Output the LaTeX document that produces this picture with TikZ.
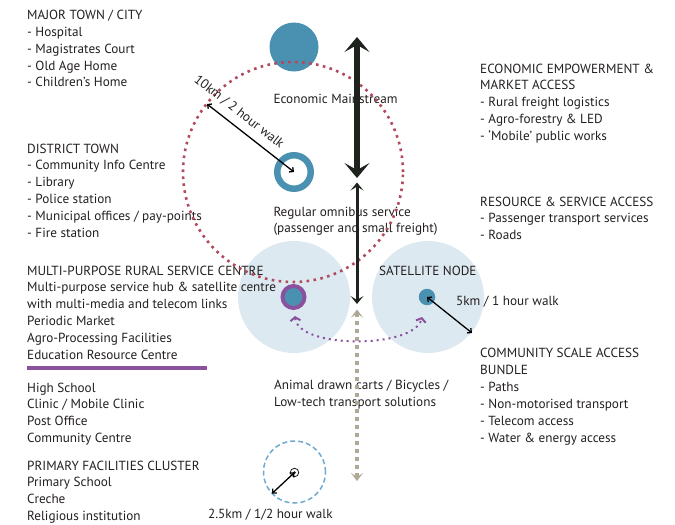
\documentclass[tikz,border=0pt]{standalone}
\usepackage{fontspec}
\setmainfont{PT Sans}
\usetikzlibrary{arrows.meta}
\definecolor{bluec}{HTML}{4A91B1}
\definecolor{redc}{HTML}{B04A5C}
\definecolor{lightc}{HTML}{DDE9F1}
\definecolor{purpc}{HTML}{8A529E}
\definecolor{greyc}{HTML}{AFA896}
\definecolor{darkc}{HTML}{1E231E}
\definecolor{dashc}{HTML}{6EAAD2}
\definecolor{textc}{HTML}{231F20}
\newcommand{\tblock}[1]{\begin{tabular}[t]{@{}l@{}}#1\end{tabular}}
\begin{document}
\begin{tikzpicture}[x=1pt,y=-1pt,
  txt/.style={anchor=base west,inner sep=0pt,font=\fontsize{13.2}{16.9}\selectfont,text=textc},
  bgc/.style={circle,fill=lightc,minimum size=112pt,inner sep=0pt},
  walk/.style={line width=1.3pt,{Straight Barb[length=3pt,width=6pt]}-{Straight Barb[length=3pt,width=6pt]}},
  bigarrow/.style={draw=darkc,line width=6pt,{Stealth[length=15pt,width=25pt,inset=7pt]}-{Stealth[length=15pt,width=25pt,inset=7pt]}},
  midarrow/.style={draw=darkc,line width=3pt,{Stealth[length=8pt,width=13pt,inset=4pt]}-{Stealth[length=8pt,width=13pt,inset=4pt]}},
  greyarrow/.style={draw=greyc,line width=4.5pt,dash pattern=on 4pt off 4pt,{Stealth[length=8pt,width=12pt,inset=4pt]}-{Stealth[length=8pt,width=12pt,inset=4pt]}},
  purparrow/.style={draw=purpc,line width=2pt,dash pattern=on 2pt off 4pt,{Straight Barb[length=3.5pt,width=10pt]}-{Straight Barb[length=3.5pt,width=10pt]}}
]
\useasboundingbox (0,0) rectangle (675,525);

% background circles
\node[bgc] (hubarea) at (294,297) {};
\node[bgc] (satarea) at (428,297) {};

% left column texts
\node[txt] (major) at (27,19.3) {\tblock{MAJOR TOWN / CITY\\- Hospital\\- Magistrates Court\\- Old Age Home\\- Children’s Home}};
\node[txt] (district) at (27,153) {\tblock{DISTRICT TOWN\\- Community Info Centre\\- Library\\- Police station\\- Municipal offices / pay-points\\- Fire station}};
\node[txt] (multi) at (27,275) {\tblock{MULTI-PURPOSE RURAL SERVICE CENTRE\\Multi-purpose service hub \& satellite centre\\with multi-media and telecom links\\Periodic Market\\Agro-Processing Facilities\\Education Resource Centre}};
\coordinate (barL) at (27,368.3);
\coordinate (barR) at (207,368.3);
\draw[purpc,line width=4pt] (barL) -- (barR);
\node[txt] (school) at (27,392) {\tblock{High School\\Clinic / Mobile Clinic\\Post Office\\Community Centre}};
\node[txt] (primary) at (27,470) {\tblock{PRIMARY FACILITIES CLUSTER\\Primary School\\Creche\\Religious institution}};

% right column texts
\node[txt] (econ) at (480,73) {\tblock{ECONOMIC EMPOWERMENT \&\\MARKET ACCESS\\- Rural freight logistics\\- Agro-forestry \& LED\\- ‘Mobile’ public works}};
\node[txt] (resource) at (480,206) {\tblock{RESOURCE \& SERVICE ACCESS\\- Passenger transport services\\- Roads}};
\node[txt] (community) at (480,357.7) {\tblock{COMMUNITY SCALE ACCESS\\BUNDLE\\- Paths\\- Non-motorised transport\\- Telecom access\\- Water \& energy access}};

% middle texts
\node[txt] (mainstream) at (273.3,103.3) {Economic Mainstream};
\node[txt] (omnibus) at (273.3,216) {\tblock{Regular omnibus service\\(passenger and small freight)}};
\node[txt] (satlabel) at (379,275) {SATELLITE NODE};
\node[txt] (fivekm) at (456,305) {5km / 1 hour walk};
\node[txt] (animal) at (274,389.3) {\tblock{Animal drawn carts / Bicycles /\\Low-tech transport solutions}};
\node[txt] (twokm) at (208,518) {2.5km / 1/2 hour walk};

% city and district
\node[circle,fill=bluec,minimum size=49pt,inner sep=0pt] (city) at (294,47) {};
\node[circle,draw=redc,line width=2.6pt,dash pattern=on 2.6pt off 4.4pt,minimum size=220pt,inner sep=0pt] (range10) at (293,172) {};
\node[circle,draw=bluec,line width=6.5pt,minimum size=33.5pt,inner sep=0pt] (dtown) at (294,172) {};
\coordinate (r10) at (207,104);
\draw[walk] (r10) -- (dtown.center);
\node[rotate=-38,inner sep=0pt,font=\fontsize{13.2}{14}\selectfont,text=textc] (tenkm) at (239,112) {10km / 2 hour walk};

% hub and satellite
\node[circle,draw=purpc,fill=bluec,line width=4pt,minimum size=22pt,inner sep=0pt] (hub) at (293.5,297) {};
\node[circle,fill=bluec,minimum size=16.5pt,inner sep=0pt] (sat) at (427,297) {};
\coordinate (r5) at (472,333);
\draw[walk] (sat.center) -- (r5);
\coordinate (pL) at (295,316);
\coordinate (pR) at (422,317);
\draw[purparrow] (pL) .. controls (298,349) and (414,349) .. (pR);

% primary cluster
\node[circle,draw=dashc,line width=1.5pt,dash pattern=on 5pt off 3pt,minimum size=62pt,inner sep=0pt] (range25) at (294.5,472) {};
\node[circle,draw=textc,line width=0.8pt,minimum size=8.5pt,inner sep=0pt] (pcore) at (294.5,472.5) {};
\fill[textc] (pcore.center) circle[radius=1.5pt];
\coordinate (r25) at (272,493.5);
\draw[walk] (pcore.center) -- (r25);

% vertical arrows
\coordinate (a1t) at (357,37);
\coordinate (a1b) at (357,178);
\coordinate (a2t) at (357,182.5);
\coordinate (a2b) at (357,304);
\coordinate (a3t) at (357,309.5);
\coordinate (a3b) at (357,481);
\draw[bigarrow] (a1t) -- (a1b);
\draw[midarrow] (a2t) -- (a2b);
\draw[greyarrow] (a3t) -- (a3b);
\end{tikzpicture}
\end{document}
